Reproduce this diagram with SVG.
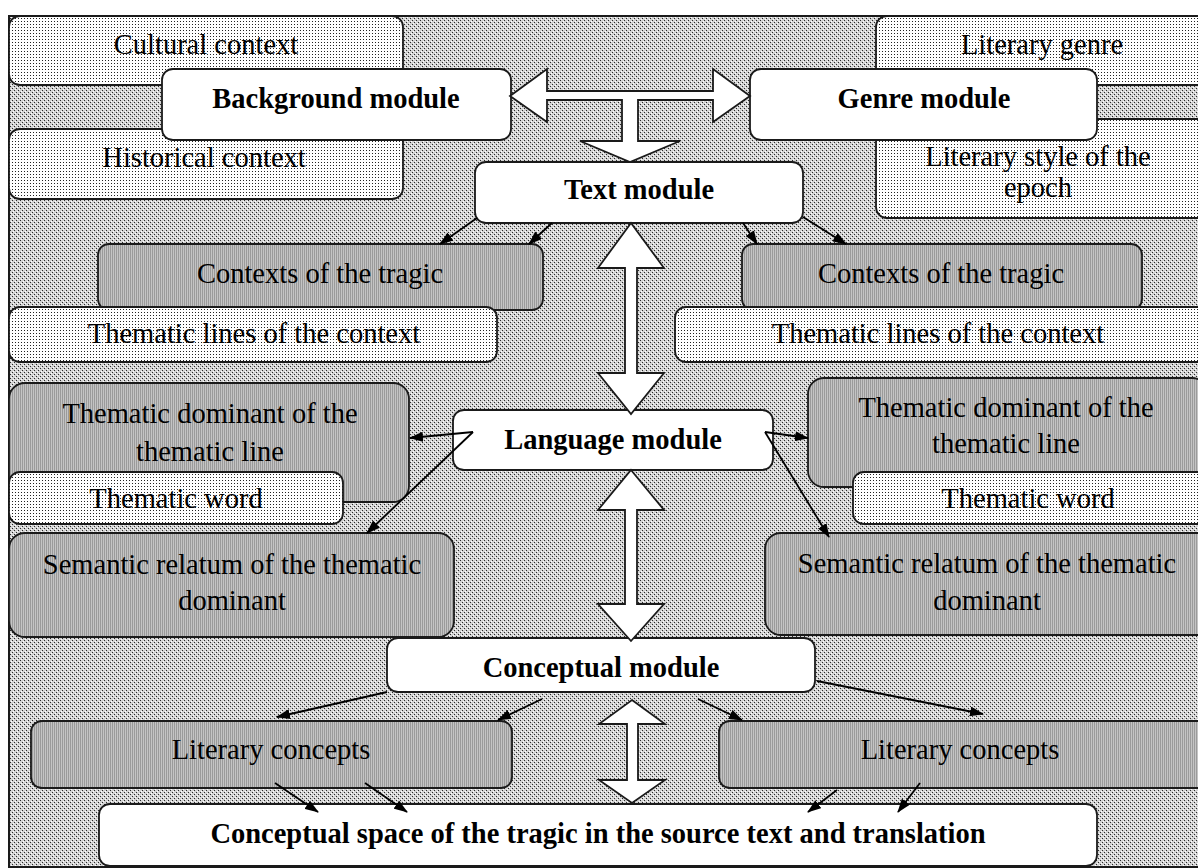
<svg xmlns="http://www.w3.org/2000/svg" width="1198" height="868" viewBox="0 0 1198 868">
<defs>
<pattern id="bg" width="4" height="4" patternUnits="userSpaceOnUse">
<rect width="4" height="4" fill="#d2d2d2"/>
<rect x="0" y="0" width="1" height="1" fill="#2a2a2a"/>
<rect x="2" y="2" width="1" height="1" fill="#2a2a2a"/>
<rect x="1" y="3" width="1" height="1" fill="#ffffff"/>
<rect x="3" y="1" width="1" height="1" fill="#ffffff"/>
</pattern>
<pattern id="dots" width="3" height="3" patternUnits="userSpaceOnUse">
<rect width="3" height="3" fill="#ffffff"/>
<rect x="0" y="0" width="1" height="1" fill="#222222"/>
</pattern>
<pattern id="gray" width="2" height="2" patternUnits="userSpaceOnUse">
<rect width="2" height="2" fill="#c4c4c4"/>
<rect x="0" y="0" width="1" height="2" fill="#9a9a9a"/>
</pattern>
<marker id="ah" viewBox="0 0 14 10" refX="13" refY="5" markerWidth="14" markerHeight="10" markerUnits="userSpaceOnUse" orient="auto">
<path d="M0,0 L14,5 L0,10 z" fill="#000"/>
</marker>
<style>
.box{stroke:#1a1a1a;stroke-width:1.8}
.w{fill:#ffffff}
.d{fill:url(#dots)}
.g{fill:url(#gray)}
.t{font-family:"Liberation Serif","Times New Roman",serif;font-size:28.5px;fill:#000;text-anchor:middle}
.b{font-weight:bold}
.blk{fill:#ffffff;stroke:#1a1a1a;stroke-width:1.8;stroke-linejoin:miter}
.ln{stroke:#000;stroke-width:1.8;fill:none;marker-end:url(#ah)}
</style>
</defs>
<rect x="0" y="0" width="1198" height="868" fill="#ffffff"/>
<rect id="frame" x="9" y="16" width="1200" height="851" fill="url(#bg)" stroke="#1a1a1a" stroke-width="2"/>

<g id="cultural-context"><rect class="box d" x="9" y="16" width="394" height="69" rx="11"/><text class="t" x="206" y="54">Cultural context</text></g>
<g id="historical-context"><rect class="box d" x="9" y="129" width="394" height="70" rx="11"/><text class="t" x="204" y="167">Historical context</text></g>
<g id="literary-genre"><rect class="box d" x="876" y="16" width="340" height="69" rx="11"/><text class="t" x="1042" y="54">Literary genre</text></g>
<g id="literary-style"><rect class="box d" x="876" y="119" width="340" height="99" rx="11"/><text class="t" x="1038" y="166">Literary style of the</text><text class="t" x="1038" y="197">epoch</text></g>
<g id="background-module"><rect class="box w" x="162" y="69" width="349" height="71" rx="11"/><text class="t b" x="336" y="108">Background module</text></g>
<g id="genre-module"><rect class="box w" x="750" y="69" width="347" height="71" rx="11"/><text class="t b" x="924" y="108">Genre module</text></g>
<g id="text-module"><rect class="box w" x="475" y="162" width="328" height="61" rx="11"/><text class="t b" x="639" y="199">Text module</text></g>

<g id="contexts-left"><rect class="box g" x="98" y="244" width="445" height="66" rx="11"/><text class="t" x="320" y="283">Contexts of the tragic</text></g>
<g id="thematic-lines-left"><rect class="box d" x="9" y="307" width="488" height="55" rx="11"/><text class="t" x="254" y="343">Thematic lines of the context</text></g>
<g id="contexts-right"><rect class="box g" x="742" y="244" width="400" height="66" rx="11"/><text class="t" x="941" y="283">Contexts of the tragic</text></g>
<g id="thematic-lines-right"><rect class="box d" x="675" y="307" width="535" height="55" rx="11"/><text class="t" x="938" y="343">Thematic lines of the context</text></g>

<g id="dominant-left"><rect class="box g" x="9" y="383" width="400" height="119" rx="16"/><text class="t" x="210" y="423">Thematic dominant of the</text><text class="t" x="210" y="461">thematic line</text></g>
<g id="word-left"><rect class="box d" x="9" y="472" width="334" height="52" rx="11"/><text class="t" x="176" y="508">Thematic word</text></g>
<g id="relatum-left"><rect class="box g" x="9" y="533" width="445" height="104" rx="16"/><text class="t" x="232" y="574">Semantic relatum of the thematic</text><text class="t" x="232" y="610">dominant</text></g>
<g id="dominant-right"><rect class="box g" x="808" y="378" width="400" height="109" rx="16"/><text class="t" x="1006" y="417">Thematic dominant of the</text><text class="t" x="1006" y="453">thematic line</text></g>
<g id="word-right"><rect class="box d" x="853" y="472" width="360" height="52" rx="11"/><text class="t" x="1028" y="508">Thematic word</text></g>
<g id="relatum-right"><rect class="box g" x="765" y="533" width="450" height="102" rx="16"/><text class="t" x="987" y="573">Semantic relatum of the thematic</text><text class="t" x="987" y="610">dominant</text></g>

<g id="language-module"><rect class="box w" x="453" y="410" width="320" height="60" rx="11"/><text class="t b" x="613" y="449">Language module</text></g>
<g id="conceptual-module"><rect class="box w" x="387" y="638" width="428" height="54" rx="11"/><text class="t b" x="601" y="677">Conceptual module</text></g>
<g id="concepts-left"><rect class="box g" x="31" y="721" width="481" height="67" rx="11"/><text class="t" x="271" y="759">Literary concepts</text></g>
<g id="concepts-right"><rect class="box g" x="719" y="721" width="495" height="67" rx="11"/><text class="t" x="960" y="759">Literary concepts</text></g>
<g id="conceptual-space"><rect class="box w" x="99" y="804" width="998" height="62" rx="11"/><text class="t b" x="598" y="843">Conceptual space of the tragic in the source text and translation</text></g>

<g id="connectors">
<polygon class="blk" points="510,96 547,69 547,91 713,91 713,69 750,96 713,122 713,100 638,100 638,141 680,141 630,162 580,141 622,141 622,100 547,100 547,122"/>
<polygon class="blk" points="631,223 664,268 637,268 637,373 664,373 631,414 598,373 625,373 625,268 598,268"/>
<polygon class="blk" points="631,470 664,510 637,510 637,604 664,604 631,641 598,604 625,604 625,510 598,510"/>
<polygon class="blk" points="632,700 665,724 638,724 638,780 665,780 632,803 599,780 627,780 627,724 599,724"/>
<line class="ln" x1="477" y1="218" x2="440" y2="244"/>
<line class="ln" x1="552" y1="223" x2="529" y2="244"/>
<line class="ln" x1="743" y1="223" x2="757" y2="244"/>
<line class="ln" x1="803" y1="217" x2="846" y2="244"/>
<line class="ln" x1="473" y1="432" x2="410" y2="438"/>
<line class="ln" x1="473" y1="432" x2="367" y2="533"/>
<line class="ln" x1="765" y1="432" x2="808" y2="438"/>
<line class="ln" x1="765" y1="432" x2="829" y2="537"/>
<line class="ln" x1="387" y1="692" x2="277" y2="717"/>
<line class="ln" x1="542" y1="699" x2="498" y2="720"/>
<line class="ln" x1="698" y1="699" x2="742" y2="720"/>
<line class="ln" x1="817" y1="681" x2="983" y2="714"/>
<line class="ln" x1="275" y1="783" x2="318" y2="812"/>
<line class="ln" x1="365" y1="783" x2="407" y2="812"/>
<line class="ln" x1="837" y1="790" x2="808" y2="812"/>
<line class="ln" x1="920" y1="783" x2="898" y2="812"/>
</g>
</svg>
